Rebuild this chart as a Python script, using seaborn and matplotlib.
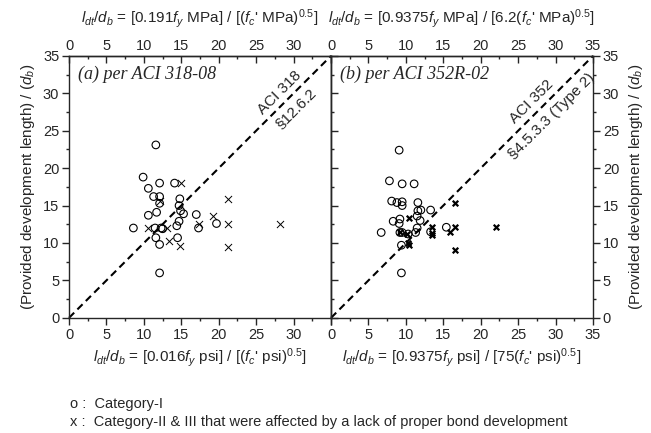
import numpy as np
import pandas as pd
import matplotlib
matplotlib.use("Agg")
import matplotlib.pyplot as plt
from matplotlib.ticker import MultipleLocator
import seaborn as sns

# (a) ACI 318-08
left_o_x = [11.6, 9.9, 10.6, 12.1, 14.1, 11.3, 12.1, 12.1, 14.8, 14.7, 14.9, 15.3, 10.6, 11.7,
            17.0, 14.7, 14.4, 17.3, 19.7, 8.6, 11.5, 12.3, 12.5, 11.6, 14.5, 12.1, 12.1]
left_o_y = [23.1, 18.8, 17.3, 18.0, 18.0, 16.2, 16.2, 15.3, 15.9, 15.0, 14.3, 13.9, 13.7, 14.1,
            13.8, 12.9, 12.3, 12.0, 12.6, 12.0, 12.0, 12.0, 11.9, 10.7, 10.7, 9.8, 6.0]
left_x_x = [15.0, 21.2, 19.3, 17.3, 21.2, 28.2, 10.5, 13.1, 13.4, 14.8, 21.2, 12.1]
left_x_y = [18.0, 15.9, 13.6, 12.6, 12.6, 12.6, 12.0, 12.0, 10.3, 9.6, 9.5, 15.6]

# (b) ACI 352R-02
right_o_x = [9.1, 7.8, 9.5, 11.1, 8.1, 8.8, 9.5, 9.5, 11.6, 11.6, 12.0, 13.3, 11.5, 11.9,
             8.3, 9.2, 9.1, 6.7, 9.2, 9.5, 10.3, 11.3, 11.5, 13.3, 15.4, 9.4, 9.4]
right_o_y = [22.4, 18.3, 17.9, 17.9, 15.6, 15.4, 15.5, 15.0, 15.4, 14.3, 14.4, 14.4, 13.6, 13.0,
             12.9, 13.2, 12.6, 11.4, 11.4, 11.4, 11.2, 11.4, 12.0, 11.5, 12.1, 9.7, 6.0]
right_x_x = [10.4, 16.5, 13.5, 16.5, 22.0, 15.9, 13.5, 13.5, 16.5, 10.4, 10.3, 9.2, 10.2]
right_x_y = [13.3, 15.4, 12.1, 12.1, 12.1, 11.4, 11.0, 11.3, 9.0, 9.7, 10.0, 11.4, 11.2]

ticks = [0, 5, 10, 15, 20, 25, 30, 35]
left_ticklabels = ["0", "5", "10", "15", "20", "25", "30", ""]
right_ticklabels = ["0", "5", "10", "15", "20", "25", "30", "35"]

sns.set_theme(style="ticks")
plt.rcParams["font.family"] = ["Liberation Sans", "DejaVu Sans"]
plt.rcParams["mathtext.fontset"] = "custom"
plt.rcParams["mathtext.rm"] = "Liberation Sans"
plt.rcParams["mathtext.it"] = "Liberation Sans:italic"
plt.rcParams["axes.linewidth"] = 1.0

fig, (ax1, ax2) = plt.subplots(1, 2, figsize=(6.51, 4.33), dpi=100)
fig.subplots_adjust(left=0.106, right=0.911, bottom=0.266, top=0.871, wspace=0)

panels = [
    (ax1, left_o_x, left_o_y, left_x_x, left_x_y, 0.7, 26),
    (ax2, right_o_x, right_o_y, right_x_x, right_x_y, 1.6, 16),
]
for ax, ox, oy, xx, xy, xlw, xs in panels:
    df_o = pd.DataFrame({"x": ox, "y": oy})
    df_x = pd.DataFrame({"x": xx, "y": xy})
    ax.plot([0, 35], [0, 35], color="black", lw=1.5, ls=(0, (3.5, 2.2)), clip_on=False, zorder=1)
    sns.scatterplot(data=df_o, x="x", y="y", ax=ax, marker="o", s=30,
                    facecolor="none", edgecolor="black", linewidth=0.8, zorder=3)
    sns.scatterplot(data=df_x, x="x", y="y", ax=ax, marker="x", s=xs,
                    color="black", linewidth=xlw, zorder=3)
    ax.set_xlim(0, 35)
    ax.set_ylim(0, 35)
    ax.set_xlabel("")
    ax.set_ylabel("")
    for sp in ax.spines.values():
        sp.set_visible(True)
        sp.set_linewidth(1.0)
    ax.xaxis.set_minor_locator(MultipleLocator(2.5))
    ax.yaxis.set_minor_locator(MultipleLocator(2.5))
    ax.tick_params(axis="x", which="both", direction="out", top=False, labelsize=10.5, pad=2)
    ax.tick_params(axis="x", which="major", length=5, width=1)
    ax.tick_params(axis="x", which="minor", length=2.5, width=1)

for ax, lbls, top_txt, bot_txt in [
    (ax1, left_ticklabels,
     r"$l_{dt}/d_b$ = [0.191$f_y$ MPa] / [($f_c$' MPa)$^{0.5}$]",
     r"$l_{dt}/d_b$ = [0.016$f_y$ psi] / [($f_c$' psi)$^{0.5}$]"),
    (ax2, right_ticklabels,
     r"$l_{dt}/d_b$ = [0.9375$f_y$ MPa] / [6.2($f_c$' MPa)$^{0.5}$]",
     r"$l_{dt}/d_b$ = [0.9375$f_y$ psi] / [75($f_c$' psi)$^{0.5}$]"),
]:
    ax.set_xticks(ticks)
    ax.set_xticklabels(lbls)
    ax.set_xlabel(bot_txt, fontsize=11, labelpad=3)
    sec = ax.secondary_xaxis("top")
    sec.set_xticks(ticks)
    sec.set_xticklabels(lbls)
    sec.xaxis.set_minor_locator(MultipleLocator(2.5))
    sec.tick_params(which="major", direction="in", length=5, width=1, labelsize=10.5, pad=2)
    sec.tick_params(which="minor", direction="in", length=2.5, width=1)
    sec.set_xlabel(top_txt, fontsize=11, labelpad=12)

ylab = "(Provided development length) / ($d_b$)"
ax1.set_yticks(ticks)
ax1.set_yticklabels(right_ticklabels)
ax1.tick_params(axis="y", which="both", direction="out", left=True, right=False, labelsize=10.5, pad=2)
ax1.tick_params(axis="y", which="major", length=5, width=1)
ax1.tick_params(axis="y", which="minor", length=2.5, width=1)
ax1.set_ylabel(ylab, fontsize=11, labelpad=4)

ax2.set_yticks(ticks)
ax2.set_yticklabels(right_ticklabels)
ax2.yaxis.tick_right()
ax2.yaxis.set_label_position("right")
ax2.tick_params(axis="y", which="both", direction="out", left=False, right=True, labelsize=10.5, pad=2)
ax2.tick_params(axis="y", which="major", length=5, width=1)
ax2.tick_params(axis="y", which="minor", length=2.5, width=1)
ax2.set_ylabel(ylab, fontsize=11, labelpad=6, rotation=90)
sec_y = ax2.secondary_yaxis("left")
sec_y.set_yticks(ticks)
sec_y.set_yticklabels([])
sec_y.yaxis.set_minor_locator(MultipleLocator(2.5))
sec_y.tick_params(which="major", direction="in", length=5, width=1)
sec_y.tick_params(which="minor", direction="in", length=2.5, width=1)

serif_it = dict(family=["Liberation Serif", "DejaVu Serif"], style="italic", fontsize=13)
ax1.text(1.2, 32.5, "(a) per ACI 318-08", ha="left", va="center", **serif_it)
ax2.text(1.2, 32.5, "(b) per ACI 352R-02", ha="left", va="center", **serif_it)

note_kw = dict(rotation=45, rotation_mode="anchor", ha="center", va="center", fontsize=11)
ax1.text(28.2, 30.1, "ACI 318", **note_kw)
ax1.text(30.2, 28.0, "§12.6.2", **note_kw)
ax2.text(26.8, 28.9, "ACI 352", **note_kw)
ax2.text(29.5, 26.9, "§4.5.3.3 (Type 2)", **note_kw)

fig.text(0.108, 0.067, "o :  Category-I", fontsize=10.5, ha="left", va="center")
fig.text(0.108, 0.025, "x :  Category-II & III that were affected by a lack of proper bond development",
         fontsize=10.5, ha="left", va="center")

fig.savefig("out.png", dpi=100)
